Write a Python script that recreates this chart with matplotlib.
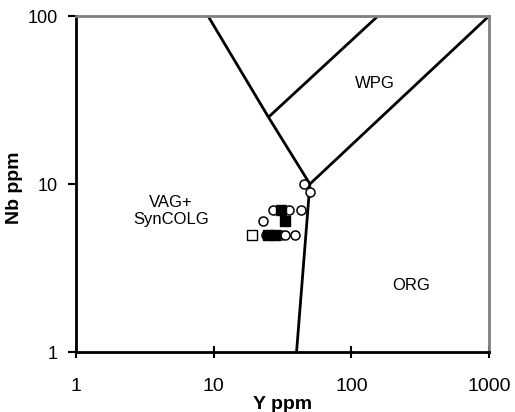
import matplotlib
matplotlib.use("Agg")
import matplotlib.pyplot as plt

plt.rcParams['font.family'] = ['Liberation Sans', 'DejaVu Sans']

# Field boundaries (Pearce et al. 1984 Nb-Y diagram)
b1_y = [40, 50, 1000]
b1_nb = [1, 10, 100]
b2_y = [50, 25, 9.1]
b2_nb = [10, 25, 100]
b3_y = [25, 156]
b3_nb = [25, 100]

# Samples
circ_y = [45, 50, 27, 35, 43, 23, 24, 31, 33, 39]
circ_nb = [10, 9, 7, 7, 7, 6, 5, 5, 5, 5]
fsq_y = [31, 33, 25, 28]
fsq_nb = [7, 6, 5, 5]
osq_y = [19]
osq_nb = [5]

fig = plt.figure(figsize=(5.15, 4.12), dpi=100)
ax = fig.add_axes([0.1476, 0.1456, 0.8019, 0.8155])
ax.set_xscale('log')
ax.set_yscale('log')
ax.set_xlim(1, 1000)
ax.set_ylim(1, 100)

for xs, ys in [(b1_y, b1_nb), (b2_y, b2_nb), (b3_y, b3_nb)]:
    ax.plot(xs, ys, color='black', lw=2, solid_capstyle='butt', zorder=2)

ax.plot(circ_y, circ_nb, 'o', ms=6.5, mfc='white', mec='black', mew=1.1, ls='none', zorder=3)
ax.plot(fsq_y, fsq_nb, 's', ms=6.5, mfc='black', mec='black', mew=1.0, ls='none', zorder=4)
ax.plot(osq_y, osq_nb, 's', ms=6.5, mfc='white', mec='black', mew=1.0, ls='none', zorder=4)

ax.text(4.9, 6.9, 'VAG+\nSynCOLG', ha='center', va='center', fontsize=12, linespacing=1.1)
ax.text(148, 39.4, 'WPG', ha='center', va='center', fontsize=12)
ax.text(271, 2.5, 'ORG', ha='center', va='center', fontsize=12)

ax.set_xticks([1, 10, 100, 1000])
ax.set_xticklabels(['1', '10', '100', '1000'])
ax.set_yticks([1, 10, 100])
ax.set_yticklabels(['1', '10', '100'])
ax.minorticks_off()
ax.tick_params(axis='both', which='major', width=1.5, color='black')
ax.tick_params(axis='x', direction='inout', length=9, pad=14, labelsize=14)
ax.tick_params(axis='y', direction='out', length=6, pad=7, labelsize=13)
ax.tick_params(top=False, right=False)

for s in ['left', 'bottom']:
    ax.spines[s].set_color('black')
    ax.spines[s].set_linewidth(2)
for s in ['top', 'right']:
    ax.spines[s].set_color('#808080')
    ax.spines[s].set_linewidth(2)

ax.set_xlabel('Y ppm', fontsize=14, fontweight='bold', labelpad=1)
ax.set_ylabel('Nb ppm', fontsize=14, fontweight='bold')
ax.yaxis.set_label_coords(-0.128, 0.49)

fig.savefig('out.png', dpi=100)
